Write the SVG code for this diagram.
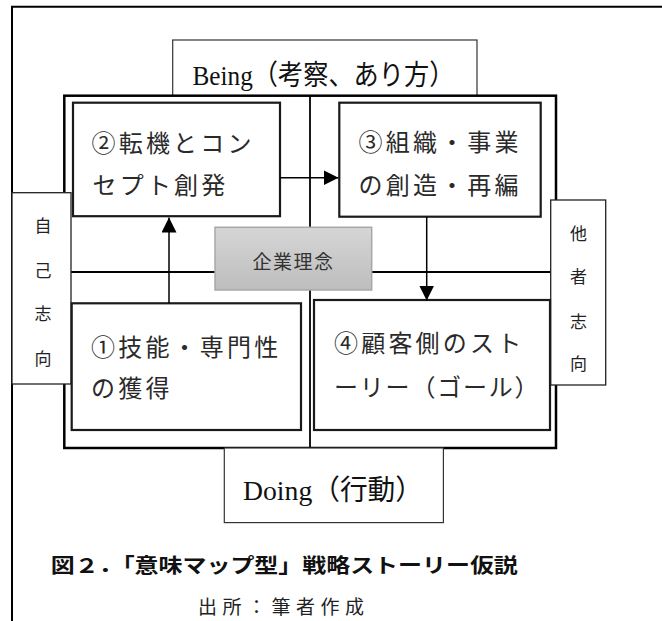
<svg xmlns="http://www.w3.org/2000/svg" width="662" height="621" viewBox="0 0 662 621">
<style>
.frame{stroke:#000;stroke-width:2;fill:none}
.label{fill:#fff;stroke:#333;stroke-width:1.2}
.big{fill:#fff;stroke:#000;stroke-width:2.5}
.box{fill:#fff;stroke:#1a1a1a;stroke-width:2.2}
.side{fill:#fff;stroke:#222;stroke-width:1.3}
.grid{stroke:#000;stroke-width:1.8;fill:none}
.conn{stroke:#000;stroke-width:1.5;fill:none}
.ttl{font-family:"Liberation Serif","Noto Sans CJK JP",serif;font-size:28px;fill:#111}
.bt{font-family:"Noto Sans CJK JP",sans-serif;font-size:24px;letter-spacing:3.2px;fill:#2a2a2a}
.st{font-family:"Noto Sans CJK JP",sans-serif;font-size:17px;fill:#222;text-anchor:middle}
.cap{font-family:"Noto Sans CJK JP",sans-serif;font-size:20px;font-weight:bold;fill:#111}
.src{font-family:"Noto Sans CJK JP",sans-serif;font-size:19px;fill:#222}
</style>
<defs>
<marker id="ah" markerUnits="userSpaceOnUse" markerWidth="15" markerHeight="15" refX="15" refY="7.5" orient="auto">
<path d="M0,0 L15,7.5 L0,15 z" fill="#000"/>
</marker>
<linearGradient id="gg" x1="0" y1="0" x2="0" y2="1">
<stop offset="0" stop-color="#d6d6d6"/>
<stop offset="1" stop-color="#bdbdbd"/>
</linearGradient>
</defs>
<rect width="662" height="621" fill="#fff"/>
<g id="frame">
<path class="frame" d="M12,621 V6.7 H662"/>
</g>
<g id="being">
<rect class="label" x="172.7" y="40" width="304.3" height="55.7"/>
<text class="ttl" x="192.5" y="84.6" textLength="262" lengthAdjust="spacingAndGlyphs">Being（考察、あり方）</text>
</g>
<g id="quadrant">
<rect class="big" x="64.3" y="95.7" width="491.7" height="352.3"/>
<line class="grid" x1="310" y1="95.7" x2="310" y2="448"/>
<line class="grid" x1="64.3" y1="272" x2="556" y2="272"/>
</g>
<g id="doing">
<rect class="label" x="224.3" y="448" width="219.1" height="74.6"/>
<text class="ttl" x="243" y="500" textLength="180" lengthAdjust="spacingAndGlyphs">Doing（行動）</text>
</g>
<g id="self">
<rect class="side" x="12" y="192.7" width="59" height="191.3"/>
<text class="st" x="43" y="231.5">自</text>
<text class="st" x="43" y="276.5">己</text>
<text class="st" x="43" y="319.5">志</text>
<text class="st" x="43" y="364.5">向</text>
</g>
<g id="other">
<rect class="side" x="550.7" y="200" width="55" height="185"/>
<text class="st" x="578.5" y="239.5">他</text>
<text class="st" x="578.5" y="283">者</text>
<text class="st" x="578.5" y="328">志</text>
<text class="st" x="578.5" y="370">向</text>
</g>
<g id="node2">
<rect class="box" x="73" y="102.7" width="207" height="113.5"/>
<text class="bt" x="91.5" y="152">②転機とコン</text>
<text class="bt" x="92.5" y="194">セプト創発</text>
</g>
<g id="node3">
<rect class="box" x="339.3" y="102.7" width="201.4" height="114"/>
<text class="bt" x="358.5" y="151">③組織・事業</text>
<text class="bt" x="358.5" y="193.5">の創造・再編</text>
</g>
<g id="node1">
<rect class="box" x="71.7" y="303.3" width="229.3" height="126.7"/>
<text class="bt" x="91" y="355.5">①技能・専門性</text>
<text class="bt" x="91" y="397">の獲得</text>
</g>
<g id="node4">
<rect class="box" x="314" y="300" width="236" height="130"/>
<text class="bt" x="334" y="352">④顧客側のスト</text>
<text class="bt" x="334" y="395.5" style="letter-spacing:1.8px">ーリー（ゴール）</text>
</g>
<g id="philosophy">
<rect x="215" y="227.3" width="156.7" height="62.7" fill="url(#gg)" stroke="#a8a8a8" stroke-width="1.5"/>
<text x="293.5" y="269" font-family="'Noto Sans CJK JP',sans-serif" font-size="19" letter-spacing="1.5" text-anchor="middle" fill="#333">企業理念</text>
</g>
<g id="connectors">
<line class="conn" x1="169" y1="303.3" x2="169" y2="217.5" marker-end="url(#ah)"/>
<line class="conn" x1="280" y1="177.7" x2="338.5" y2="177.7" marker-end="url(#ah)"/>
<line class="conn" x1="426.7" y1="216.7" x2="426.7" y2="300.5" marker-end="url(#ah)"/>
</g>
<g id="caption">
<text class="cap" x="50.8" y="572.5" textLength="467" lengthAdjust="spacingAndGlyphs">図２．「意味マップ型」戦略ストーリー仮説</text>
<text class="src" x="198" y="614" textLength="166" lengthAdjust="spacing">出所：筆者作成</text>
</g>
</svg>
